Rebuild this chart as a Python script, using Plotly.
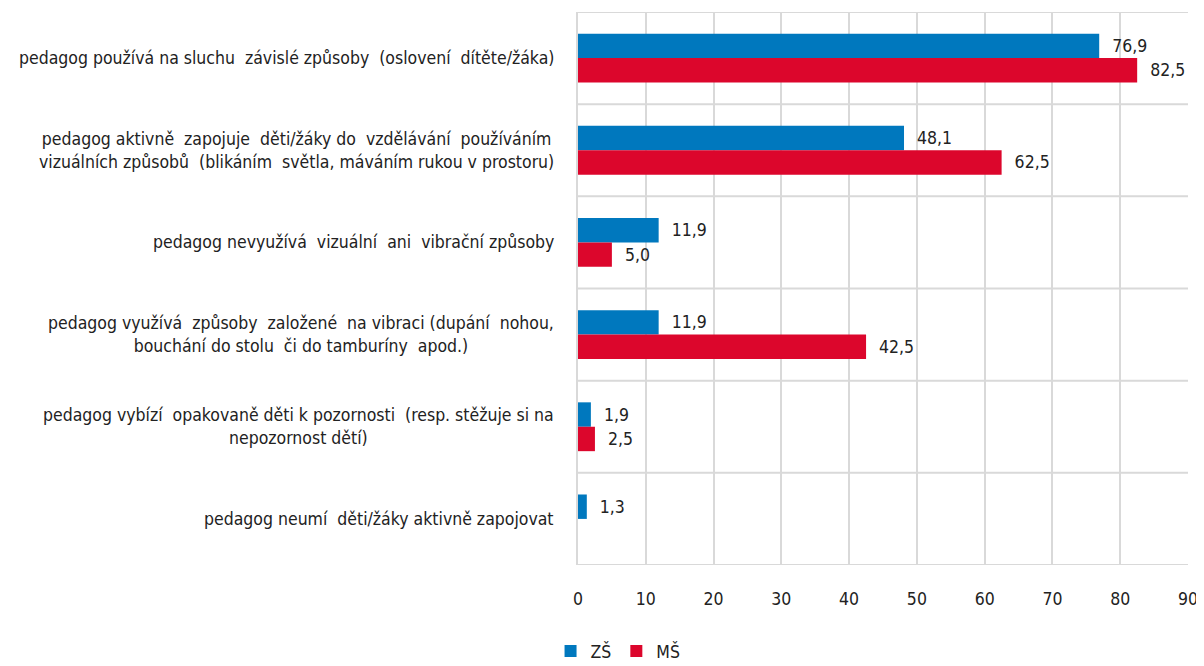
import plotly.graph_objects as go

categories = [
    "pedagog používá na sluchu  závislé způsoby  (oslovení  dítěte/žáka)",
    "pedagog aktivně  zapojuje  děti/žáky do  vzdělávání  používáním<br>vizuálních způsobů  (blikáním  světla, máváním rukou v prostoru)",
    "pedagog nevyužívá  vizuální  ani  vibrační způsoby",
    "pedagog využívá  způsoby  založené  na vibraci (dupání  nohou,<br>bouchání do stolu  či do tamburíny  apod.)",
    "pedagog vybízí  opakovaně děti k pozornosti  (resp. stěžuje si na<br>nepozornost dětí)",
    "pedagog neumí  děti/žáky aktivně zapojovat",
]
series_names = ["ZŠ", "MŠ"]
zs_values = [76.9, 48.1, 11.9, 11.9, 1.9, 1.3]
ms_values = [82.5, 62.5, 5.0, 42.5, 2.5, None]
x_ticks = [0, 10, 20, 30, 40, 50, 60, 70, 80, 90]

colors = ["#0078BE", "#DC062C"]
FONT = "DejaVu Sans Condensed, DejaVu Sans, sans-serif"
TXT = "#222222"
GRID = "#d9d9d9"
FS = 17.5

def fmt(v):
    return "" if v is None else f"{v:.1f}".replace(".", ",")

fig = go.Figure()
for name, vals, col in zip(series_names, [zs_values, ms_values], colors):
    fig.add_trace(go.Bar(
        y=categories, x=vals, name=name, orientation="h",
        marker=dict(color=col, line=dict(width=0)),
        text=[fmt(v) for v in vals],
        texttemplate="\u00a0\u00a0%{text}",
        textposition="outside",
        textfont=dict(family=FONT, size=FS, color=TXT),
        cliponaxis=False,
        hoverinfo="skip",
    ))

n = len(categories)
shapes = []
for i in range(n + 1):
    shapes.append(dict(type="line", xref="x", yref="y", x0=0, x1=90,
                       y0=i - 0.5, y1=i - 0.5,
                       line=dict(color=GRID, width=2), layer="below"))

annotations = []
for c in categories:
    annotations.append(dict(xref="paper", yref="y", x=0, y=c, text=c,
                            xanchor="right", yanchor="middle", align="center",
                            xshift=-22, showarrow=False,
                            font=dict(family=FONT, size=FS, color=TXT)))

# page body has an 8px margin, so the figure sits 8px right/down in the window;
# the figure is taller than the window so the legend never pushes the margin
fig.update_layout(
    width=1196, height=690,
    margin=dict(l=570, r=16, t=4, b=133),
    barmode="group", bargap=0.47, bargroupgap=0,
    plot_bgcolor="white", paper_bgcolor="white",
    separators=", ",
    font=dict(family=FONT, size=FS, color=TXT),
    xaxis=dict(range=[0, 90], tickvals=x_ticks, showgrid=True, gridcolor=GRID,
               gridwidth=2, zeroline=False, showline=False,
               ticks="outside", ticklen=18, tickcolor="rgba(0,0,0,0)",
               ticklabeloverflow="allow",
               tickfont=dict(family=FONT, size=FS, color=TXT)),
    yaxis=dict(autorange=False, range=[n - 0.5, -0.5], showticklabels=False,
               showgrid=False, zeroline=False, showline=True,
               linecolor=GRID, linewidth=2),
    shapes=shapes,
    annotations=annotations,
    legend=dict(orientation="h", x=-0.045, xanchor="left", y=-0.123, yanchor="top",
                font=dict(family=FONT, size=FS, color=TXT),
                itemwidth=30, tracegroupgap=0),
    showlegend=True,
)

fig.write_html("out.html")
